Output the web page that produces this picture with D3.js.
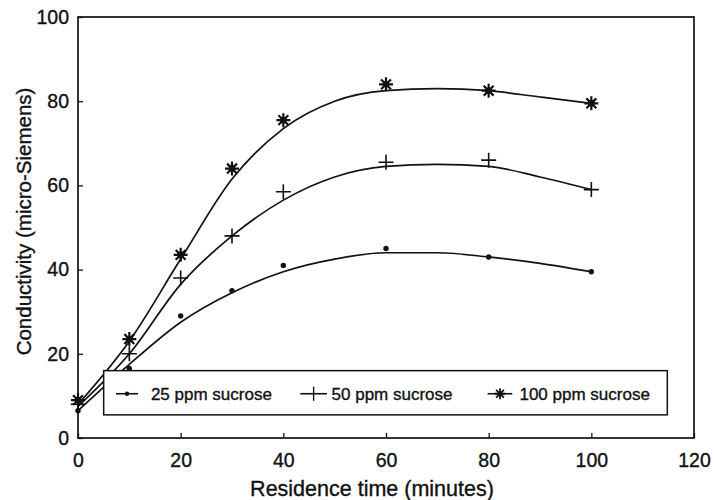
<!DOCTYPE html>
<html>
<head>
<meta charset="utf-8">
<script src="https://cdn.jsdelivr.net/npm/d3@7"></script>
<style>
  body { margin: 0; background: #fff; }
  svg text { font-family: "Liberation Sans", Arial, sans-serif; fill: #111; stroke: #111; stroke-width: 0.35px; }
</style>
</head>
<body>
<div id="chart"></div>
<script>
'use strict';

// Measured points (residence time in minutes)
const times = [0, 10, 20, 30, 40, 60, 80, 100];
const ppm25 = [6.5, 16.5, 29, 35, 41, 45, 43, 39.5];
const ppm50 = [8, 20, 38, 48, 58.5, 65.5, 66, 59];
const ppm100 = [9, 23.5, 43.5, 64, 75.5, 84, 82.5, 79.5];

// Smoothed fit curves
const fitTimes = [0, 10, 20, 30, 40, 50, 60, 70, 80, 90, 100];
const fit25 = [6.5, 17.5, 27.5, 34.5, 39.5, 42.5, 44, 44, 43, 41.5, 39.5];
const fit50 = [7.5, 20, 36.5, 48, 56.5, 62, 64.5, 65, 64.5, 62, 59];
const fit100 = [8, 23, 42.5, 61.5, 73.5, 80, 82.5, 83, 82.5, 81, 79.5];

const xTicks = [0, 20, 40, 60, 80, 100, 120];
const yTicks = [0, 20, 40, 60, 80, 100];
const seriesNames = ['25 ppm sucrose', '50 ppm sucrose', '100 ppm sucrose'];

const margin = { top: 17, right: 20, bottom: 62, left: 78 };
const width = 714 - margin.left - margin.right;
const height = 500 - margin.top - margin.bottom;

const svg = d3.select('#chart').append('svg')
  .attr('width', 714)
  .attr('height', 500)
  .append('g')
  .attr('transform', `translate(${margin.left}, ${margin.top})`);

const x = d3.scaleLinear().domain([0, 120]).range([0, width]);
const y = d3.scaleLinear().domain([0, 100]).range([height, 0]);

// Frame
svg.append('rect')
  .attr('width', width)
  .attr('height', height)
  .attr('fill', 'none')
  .attr('stroke', '#111')
  .attr('stroke-width', 1.7);

// Axes with inward ticks
const xAxis = svg.append('g')
  .attr('transform', `translate(0, ${height})`)
  .call(d3.axisBottom(x).tickValues(xTicks).tickSize(-5).tickPadding(15));
const yAxis = svg.append('g')
  .call(d3.axisLeft(y).tickValues(yTicks).tickSize(-5).tickPadding(9));
[xAxis, yAxis].forEach(a => {
  a.select('.domain').remove();
  a.selectAll('line').attr('stroke', '#111').attr('stroke-width', 1.3);
  a.selectAll('text').style('font-size', '19.5px').attr('fill', '#111');
});

// Axis titles
svg.append('text')
  .attr('x', width / 2 - 14)
  .attr('y', height + 58)
  .attr('text-anchor', 'middle')
  .style('font-size', '21.5px')
  .text('Residence time (minutes)');
svg.append('text')
  .attr('transform', 'rotate(-90)')
  .attr('x', -height / 2 + 6)
  .attr('y', -47)
  .attr('text-anchor', 'middle')
  .style('font-size', '20.5px')
  .text('Conductivity (micro-Siemens)');

// Fit curves
const line = d3.line()
  .curve(d3.curveMonotoneX)
  .x((d, i) => x(fitTimes[i]))
  .y(d => y(d));
[fit25, fit50, fit100].forEach(f => {
  svg.append('path')
    .datum(f)
    .attr('d', line)
    .attr('fill', 'none')
    .attr('stroke', '#111')
    .attr('stroke-width', 1.7);
});

// Marker drawers
function drawDot(g, cx, cy) {
  g.append('circle').attr('cx', cx).attr('cy', cy).attr('r', 2.7).attr('fill', '#111');
}
function drawPlus(g, cx, cy) {
  g.append('path')
    .attr('d', `M${cx - 7.5},${cy}H${cx + 7.5}M${cx},${cy - 7.5}V${cy + 7.5}`)
    .attr('stroke', '#111').attr('stroke-width', 1.6).attr('fill', 'none');
}
function drawStar(g, cx, cy) {
  let d = '';
  for (let k = 0; k < 4; k++) {
    const a = k * Math.PI / 4;
    const dx = 7 * Math.cos(a), dy = 7 * Math.sin(a);
    d += `M${cx - dx},${cy - dy}L${cx + dx},${cy + dy}`;
  }
  g.append('path').attr('d', d)
    .attr('stroke', '#111').attr('stroke-width', 2.2).attr('fill', 'none');
  g.append('circle').attr('cx', cx).attr('cy', cy).attr('r', 3.3).attr('fill', '#111');
}
const drawers = [drawDot, drawPlus, drawStar];

[ppm25, ppm50, ppm100].forEach((vals, s) => {
  const g = svg.append('g');
  vals.forEach((v, i) => drawers[s](g, x(times[i]), y(v)));
});

// Legend box (covers lines beneath)
const lx0 = x(5), lx1 = x(114.8), ly0 = y(16), ly1 = y(5.5);
const legend = svg.append('g');
legend.append('rect')
  .attr('x', lx0).attr('y', ly0)
  .attr('width', lx1 - lx0).attr('height', ly1 - ly0)
  .attr('fill', '#fff')
  .attr('stroke', '#111')
  .attr('stroke-width', 1.5);
const legendItems = [
  { lineFrom: x(7.4), lineTo: x(11.7), text: x(14.2) },
  { lineFrom: x(43.3), lineTo: x(48.5), text: x(49.4) },
  { lineFrom: x(79.8), lineTo: x(84.6), text: x(86) }
];
const ly = (ly0 + ly1) / 2 + 1;
legendItems.forEach((it, i) => {
  legend.append('line')
    .attr('x1', it.lineFrom).attr('x2', it.lineTo)
    .attr('y1', ly).attr('y2', ly)
    .attr('stroke', '#111').attr('stroke-width', 1.6);
  const mid = (it.lineFrom + it.lineTo) / 2;
  if (i === 0) {
    legend.append('circle').attr('cx', mid).attr('cy', ly).attr('r', 2.2).attr('fill', '#111');
  } else if (i === 1) {
    legend.append('path').attr('d', `M${mid},${ly - 7}V${ly + 7}`)
      .attr('stroke', '#111').attr('stroke-width', 1.4);
  } else {
    let d = '';
    for (let k = 0; k < 4; k++) {
      const a = k * Math.PI / 4;
      const dx = 5.5 * Math.cos(a), dy = 5.5 * Math.sin(a);
      d += `M${mid - dx},${ly - dy}L${mid + dx},${ly + dy}`;
    }
    legend.append('path').attr('d', d).attr('stroke', '#111').attr('stroke-width', 1.8);
  }
  legend.append('text')
    .attr('x', it.text)
    .attr('y', ly + 6)
    .style('font-size', '17px')
    .text(seriesNames[i]);
});
</script>
</body>
</html>
